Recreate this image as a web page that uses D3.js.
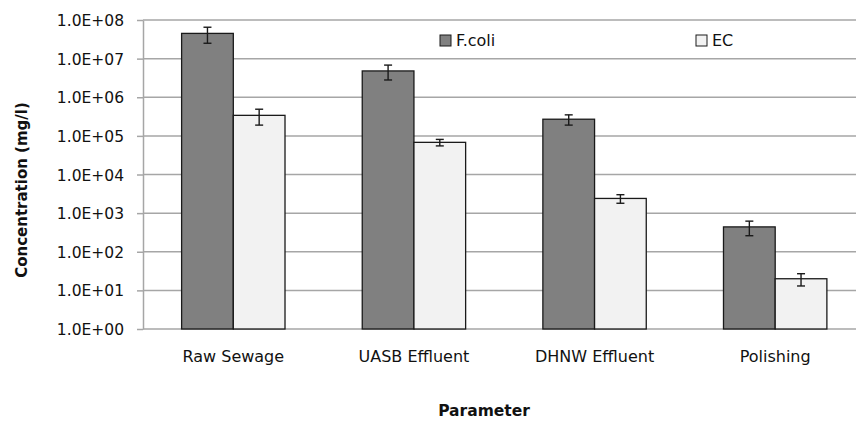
<!DOCTYPE html>
<html>
<head>
<meta charset="utf-8">
<script src="https://cdn.jsdelivr.net/npm/d3@7"></script>
<style>
  html, body { margin: 0; padding: 0; background: #ffffff; }
  svg { display: block; }
  text { font-family: "DejaVu Sans", sans-serif; fill: #111; }
</style>
</head>
<body>
<svg id="chart" width="856" height="421"></svg>
<script>
// ---- data ----
const categories = ["Raw Sewage", "UASB Effluent", "DHNW Effluent", "Polishing"];
const seriesNames = ["F.coli", "EC"];
const fcoli = [4.5e7, 4.8e6, 2.7e5, 440];
const fcoliErr = [2.0e7, 2.0e6, 8.0e4, 180];
const ec = [3.4e5, 6.8e4, 2.4e3, 20];
const ecErr = [1.5e5, 1.3e4, 6.0e2, 7];
const tickValues = [1, 1e1, 1e2, 1e3, 1e4, 1e5, 1e6, 1e7, 1e8];
const tickLabels = ["1.0E+00", "1.0E+01", "1.0E+02", "1.0E+03", "1.0E+04", "1.0E+05", "1.0E+06", "1.0E+07", "1.0E+08"];
const seriesColors = ["#808080", "#f2f2f2"];

const seriesData = [
  { name: seriesNames[0], values: fcoli, errs: fcoliErr, color: seriesColors[0] },
  { name: seriesNames[1], values: ec, errs: ecErr, color: seriesColors[1] }
];

const svg = d3.select("#chart");
const plotLeft = 143, plotRight = 865.5, plotTop = 20, plotBottom = 329, gridRight = 856;

const y = d3.scaleLog().domain([1, 1e8]).range([plotBottom, plotTop]);
const x0 = d3.scaleBand().domain(categories).range([plotLeft, plotRight]).paddingInner(0).paddingOuter(0);
const x1 = d3.scaleBand().domain(seriesNames).range([0, x0.bandwidth()]).paddingInner(0).paddingOuter(0.747);

// gridlines
svg.append("g").selectAll("line").data(tickValues).join("line")
  .attr("x1", plotLeft).attr("x2", gridRight)
  .attr("y1", d => y(d)).attr("y2", d => y(d))
  .attr("stroke", "#a6a6a6").attr("stroke-width", 1.5);

// y axis
const yAxis = d3.axisLeft(y).tickValues(tickValues)
  .tickFormat((d, i) => tickLabels[tickValues.indexOf(d)])
  .tickSize(6).tickSizeOuter(0).tickPadding(13);
const gy = svg.append("g").attr("transform", `translate(${plotLeft},0)`).call(yAxis);
gy.select(".domain").attr("stroke", "#a6a6a6").attr("stroke-width", 1.5);
gy.selectAll(".tick line").attr("stroke", "#a6a6a6").attr("stroke-width", 1.5);
gy.selectAll(".tick text").attr("font-family", "DejaVu Sans").attr("font-size", 15.5).attr("fill", "#111").attr("dy", "0.36em");

// bars
const groups = svg.append("g").selectAll("g").data(seriesData).join("g");
groups.selectAll("rect").data(s => s.values.map((v, i) => ({ s, v, i }))).join("rect")
  .attr("x", d => x0(categories[d.i]) + x1(d.s.name))
  .attr("y", d => y(d.v))
  .attr("width", x1.bandwidth())
  .attr("height", d => plotBottom - y(d.v))
  .attr("fill", d => d.s.color)
  .attr("stroke", "#1a1a1a").attr("stroke-width", 1.3);

// error bars
const eg = svg.append("g").attr("stroke", "#1a1a1a").attr("stroke-width", 1.4);
seriesData.forEach(s => {
  s.values.forEach((v, i) => {
    const cx = x0(categories[i]) + x1(s.name) + x1.bandwidth() / 2;
    const yt = y(v + s.errs[i]), yb = y(v - s.errs[i]);
    eg.append("line").attr("x1", cx).attr("x2", cx).attr("y1", yt).attr("y2", yb);
    eg.append("line").attr("x1", cx - 4).attr("x2", cx + 4).attr("y1", yt).attr("y2", yt);
    eg.append("line").attr("x1", cx - 4).attr("x2", cx + 4).attr("y1", yb).attr("y2", yb);
  });
});

// x labels
svg.append("g").selectAll("text").data(categories).join("text")
  .attr("x", d => x0(d) + x0.bandwidth() / 2)
  .attr("y", 362)
  .attr("text-anchor", "middle")
  .attr("font-size", 16)
  .text(d => d);

// axis titles
svg.append("text")
  .attr("transform", "translate(27,190) rotate(-90)")
  .attr("text-anchor", "middle")
  .attr("font-size", 15)
  .attr("font-weight", "bold")
  .text("Concentration (mg/l)");
svg.append("text")
  .attr("x", 484).attr("y", 416)
  .attr("text-anchor", "middle")
  .attr("font-size", 15.5)
  .attr("font-weight", "bold")
  .text("Parameter");

// legend
const legendX = [440, 696];
const lg = svg.append("g").selectAll("g").data(seriesData).join("g")
  .attr("transform", (d, i) => `translate(${legendX[i]},35)`);
lg.append("rect").attr("width", 11).attr("height", 11)
  .attr("fill", d => d.color).attr("stroke", "#1a1a1a").attr("stroke-width", 1);
lg.append("text").attr("x", 16).attr("y", 11).attr("font-size", 16).text(d => d.name);
</script>
</body>
</html>
